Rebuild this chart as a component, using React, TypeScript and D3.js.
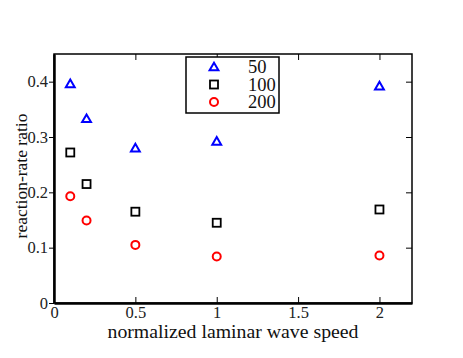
import React, { useEffect, useRef } from 'react'
import * as d3 from 'd3'

const width = 463
const height = 358
const margin = { top: 54, right: 51, bottom: 55, left: 54 }

const speeds = [0.1, 0.2, 0.5, 1, 2]
const ratio50 = [0.396, 0.333, 0.28, 0.292, 0.392]
const ratio100 = [0.272, 0.215, 0.165, 0.145, 0.169]
const ratio200 = [0.193, 0.149, 0.105, 0.084, 0.086]
const seriesNames = ['50', '100', '200']
const xTicks = [0, 0.5, 1, 1.5, 2]
const yTicks = [0, 0.1, 0.2, 0.3, 0.4]

const font = 'Liberation Serif'

export default function App() {
  const node = useRef<SVGSVGElement>(null)

  useEffect(() => {
    const svg = d3.select(node.current)
    svg.selectAll('*').remove()

    const x = d3.scaleLinear()
      .domain([0, 2.2])
      .range([margin.left, width - margin.right])

    const y = d3.scaleLinear()
      .domain([0, 0.45])
      .range([height - margin.bottom, margin.top])

    const x0 = x(0), x1 = x(2.2), y0 = y(0), y1 = y(0.45)

    // frame
    svg.append('rect')
      .attr('x', x0).attr('y', y1)
      .attr('width', x1 - x0).attr('height', y0 - y1)
      .attr('fill', 'none').attr('stroke', 'black').attr('stroke-width', 1.5)

    // bottom axis, ticks inward
    svg.append('g')
      .attr('transform', `translate(0,${y0})`)
      .call(d3.axisBottom(x).tickValues(xTicks).tickFormat(d => d3.format('')(d as number))
        .tickSizeInner(-6).tickSizeOuter(0).tickPadding(3))
      .call(g => g.select('.domain').attr('stroke-width', 2.5))
    // top ticks
    svg.append('g')
      .attr('transform', `translate(0,${y1})`)
      .call(d3.axisTop(x).tickValues(xTicks).tickFormat(() => '')
        .tickSizeInner(-6).tickSizeOuter(0))
      .call(g => g.select('.domain').remove())

    // left axis, ticks outward
    svg.append('g')
      .attr('transform', `translate(${x0},0)`)
      .call(d3.axisLeft(y).tickValues(yTicks).tickFormat(d => d3.format('')(d as number))
        .tickSizeInner(5).tickSizeOuter(0).tickPadding(1))
      .call(g => g.select('.domain').attr('stroke-width', 2.5))
    // right ticks
    svg.append('g')
      .attr('transform', `translate(${x1},0)`)
      .call(d3.axisRight(y).tickValues(yTicks).tickFormat(() => '')
        .tickSizeInner(-6).tickSizeOuter(0))
      .call(g => g.select('.domain').remove())

    svg.selectAll('g').attr('font-family', font)
    svg.selectAll('.tick text')
      .attr('font-family', font)
      .attr('font-size', 16.5)
      .attr('fill', '#222')

    // axis titles
    svg.append('text')
      .attr('x', 233)
      .attr('y', 338)
      .attr('text-anchor', 'middle')
      .attr('font-family', font)
      .attr('font-size', 19.8)
      .attr('fill', '#111')
      .text('normalized laminar wave speed')

    svg.append('text')
      .attr('transform', `translate(27,176) rotate(-90)`)
      .attr('text-anchor', 'middle')
      .attr('font-family', font)
      .attr('font-size', 17.5)
      .attr('fill', '#111')
      .text('reaction-rate ratio')

    const tri = d3.symbol().type(d3.symbolTriangle).size(34)
    const triangle = (g, cx, cy) => g.append('path')
      .attr('d', tri()).attr('transform', `translate(${cx},${cy + 0.8})`)
      .attr('fill', 'none').attr('stroke', '#0000ff').attr('stroke-width', 2)
    const square = (g, cx, cy) => g.append('rect')
      .attr('x', cx - 4).attr('y', cy - 4).attr('width', 8).attr('height', 8)
      .attr('fill', 'none').attr('stroke', 'black').attr('stroke-width', 1.8)
    const circle = (g, cx, cy) => g.append('circle')
      .attr('cx', cx).attr('cy', cy).attr('r', 4)
      .attr('fill', 'none').attr('stroke', '#ff0000').attr('stroke-width', 2)

    const marks = svg.append('g')
    speeds.forEach((s, i) => {
      triangle(marks, x(s), y(ratio50[i]))
      square(marks, x(s), y(ratio100[i]))
      circle(marks, x(s), y(ratio200[i]))
    })

    // legend
    const legend = svg.append('g')
    legend.append('rect')
      .attr('x', 186).attr('y', 57).attr('width', 93).attr('height', 56)
      .attr('fill', 'white').attr('stroke', 'black').attr('stroke-width', 1.5)
    const drawers = [triangle, square, circle]
    seriesNames.forEach((name, i) => {
      const cy = 67 + i * 17.5
      drawers[i](legend, 214, cy)
      legend.append('text')
        .attr('x', 248).attr('y', cy + 6)
        .attr('font-family', font)
        .attr('font-size', 18.5)
        .attr('fill', '#111')
        .text(name)
    })
  }, [])

  return (
    <svg ref={node} width={width} height={height}
      style={{ position: 'absolute', left: 0, top: 0, background: 'white' }} />
  )
}
